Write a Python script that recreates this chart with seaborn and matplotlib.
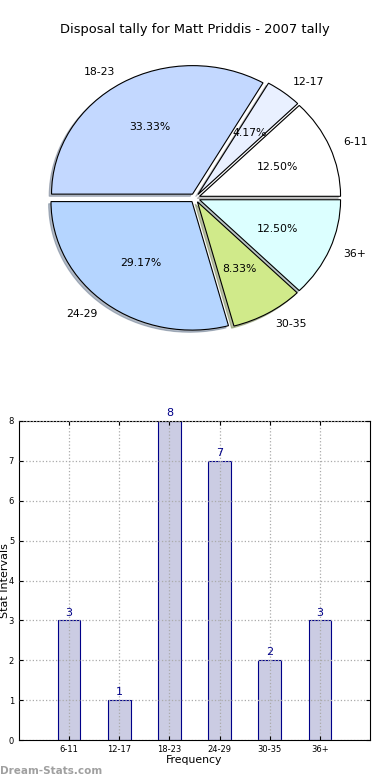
import pandas as pd
import seaborn as sns
import matplotlib
matplotlib.use("Agg")
import matplotlib.pyplot as plt

# tally des disposals - Matt Priddis 2007

intervals = ['6-11', '12-17', '18-23', '24-29', '30-35', '36+']
counts = [3, 1, 8, 7, 2, 3]
pie_colors = ['#ffffff', '#e9f0ff', '#c3d8ff', '#b5d5ff', '#d0ea8a', '#dcffff']

data = pd.DataFrame({'interval': intervals, 'count': counts})

fig = plt.figure(figsize=(3.9, 7.8), dpi=100)

# --- pie ---
ax1 = fig.add_axes([0, 0.5, 1, 0.5])
ax1.pie(data['count'], labels=data['interval'], colors=pie_colors,
        explode=[0.035] * len(counts),
        shadow={'ox': -0.012, 'oy': -0.012, 'shade': 0.45},
        autopct='%.2f%%', startangle=0, counterclock=True,
        wedgeprops={'edgecolor': 'black', 'linewidth': 0.8},
        textprops={'fontsize': 7.8})
ax1.set_aspect('auto')
ax1.set_xlim(-1.383, 1.383)
ax1.set_ylim(-1.494, 1.541)
ax1.axis('off')
fig.text(0.5, 1 - 30 / 780, 'Disposal tally for Matt Priddis - 2007 tally',
         ha='center', va='center', fontsize=9.4)

# --- barres ---
ax2 = fig.add_axes([19 / 390, 40 / 780, 351 / 390, 319 / 780])
sns.barplot(x='interval', y='count', data=data, ax=ax2, width=0.45,
            color='#cbcce3', saturation=1, edgecolor='#000088', linewidth=0.8)
for i, c in enumerate(counts):
    ax2.text(i, c + 0.07, str(c), ha='center', va='bottom', color='#000088', fontsize=8)

ax2.set_xlim(-1, 6)
ax2.set_ylim(0, 8)
ax2.set_axisbelow(False)
ax2.grid(True, linestyle=':', color='#aaaaaa', linewidth=0.9)
ax2.tick_params(axis='both', direction='in', labelsize=6, top=True, right=True, length=3)
ax2.set_xlabel('Frequency', fontsize=7.8, labelpad=1)
ax2.set_ylabel('Stat Intervals', fontsize=8)
ax2.yaxis.set_label_coords(-0.026, 0.5)
for s in ax2.spines.values():
    s.set_linewidth(0.8)

fig.text(0.0, 1 - 771 / 780, 'Dream-Stats.com', ha='left', va='center',
         fontsize=7.5, color='#a0a0a0', fontweight='bold')

plt.savefig('out.png', dpi=100)
